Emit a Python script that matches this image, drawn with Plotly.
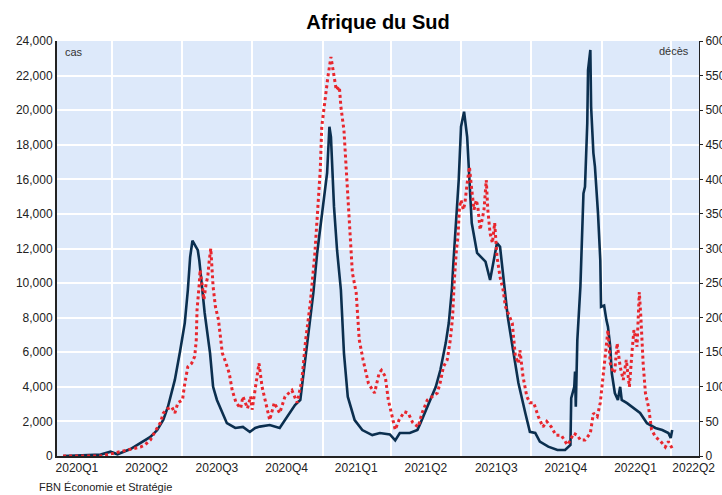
import plotly.graph_objects as go

# ---- data ----
cases_dates = [
    "2020-01-28", "2020-03-17", "2020-03-30", "2020-04-08", "2020-04-25", "2020-05-08",
    "2020-05-21", "2020-05-30", "2020-06-07", "2020-06-13", "2020-06-18", "2020-06-22",
    "2020-06-29", "2020-07-05", "2020-07-09", "2020-07-12", "2020-07-15", "2020-07-18",
    "2020-07-22", "2020-07-24", "2020-07-28", "2020-07-31", "2020-08-07", "2020-08-11",
    "2020-08-16", "2020-08-23", "2020-08-29", "2020-09-09", "2020-09-19", "2020-09-28",
    "2020-10-05", "2020-10-11", "2020-10-24", "2020-11-06", "2020-11-13", "2020-11-26",
    "2020-12-03", "2020-12-09", "2020-12-16", "2020-12-20", "2020-12-25", "2020-12-31",
    "2021-01-07", "2021-01-10", "2021-01-12", "2021-01-16", "2021-01-20", "2021-01-25",
    "2021-01-29", "2021-02-03", "2021-02-12", "2021-02-22", "2021-03-07", "2021-03-17",
    "2021-03-30", "2021-04-06", "2021-04-12", "2021-04-25", "2021-05-05", "2021-05-09",
    "2021-05-20", "2021-05-29", "2021-06-04", "2021-06-11", "2021-06-15", "2021-06-19",
    "2021-06-21", "2021-06-24", "2021-06-28", "2021-07-01", "2021-07-05", "2021-07-09",
    "2021-07-13", "2021-07-15", "2021-07-22", "2021-08-02", "2021-08-08", "2021-08-11",
    "2021-08-17", "2021-08-21", "2021-08-25", "2021-08-31", "2021-09-07", "2021-09-14",
    "2021-09-23", "2021-09-29", "2021-10-06", "2021-10-10", "2021-10-12", "2021-10-23",
    "2021-11-04", "2021-11-14", "2021-11-21", "2021-11-22", "2021-11-26", "2021-11-27",
    "2021-11-28", "2021-11-30", "2021-12-04", "2021-12-08", "2021-12-10", "2021-12-13",
    "2021-12-14", "2021-12-17", "2021-12-18", "2021-12-21", "2021-12-23", "2021-12-27",
    "2021-12-30", "2021-12-31", "2022-01-04", "2022-01-07", "2022-01-09", "2022-01-12",
    "2022-01-14", "2022-01-18", "2022-01-22", "2022-01-25", "2022-01-27", "2022-02-03",
    "2022-02-09", "2022-02-20", "2022-03-01", "2022-03-12", "2022-03-21", "2022-03-29",
    "2022-04-01", "2022-04-03",
]
cases_values = [
    0, 80, 250, 100, 400, 750,
    1100, 1500, 2100, 2850, 3800, 4400,
    6100, 7700, 9600, 11500, 12450, 12200,
    11900, 11300, 9600, 8270, 5950, 4000,
    3240, 2490, 1900, 1620, 1680, 1390,
    1620, 1700, 1790, 1620, 2080, 2950,
    3240, 5550, 8060, 9430, 11740, 14050,
    16370, 19040, 18460, 14420, 11900, 9600,
    5950, 3430, 2080, 1500, 1210, 1330,
    1250, 900, 1330, 1330, 1500, 1900,
    3060, 4000, 4970, 6530, 7690, 9600,
    11160, 13470, 15960, 19040, 19910, 18460,
    15570, 13470, 11740, 11240, 10180, 10950,
    12320, 12100, 10370, 8060, 6130, 4220,
    2490, 1400, 1330, 925, 830, 540,
    350, 350, 640, 3350, 4000, 4880,
    2850, 6700, 9790, 15190, 15570, 19260,
    22320, 23480, 20200, 17520, 16730, 14050,
    11330, 8630, 8700, 7860, 7480, 6320,
    4800, 3640, 3240, 4000, 3240, 3060,
    2850, 2490, 1900, 1620, 1500, 1330,
    1040, 1500,
]

deaths_dates = [
    "2020-01-28", "2020-03-17", "2020-03-30", "2020-04-11", "2020-04-25", "2020-05-08",
    "2020-05-14", "2020-05-21", "2020-05-27", "2020-06-03", "2020-06-07", "2020-06-12",
    "2020-06-18", "2020-06-22", "2020-06-26", "2020-07-02", "2020-07-05", "2020-07-09",
    "2020-07-14", "2020-07-18", "2020-07-20", "2020-07-21", "2020-07-24", "2020-07-25",
    "2020-07-28", "2020-07-30", "2020-08-02", "2020-08-04", "2020-08-06", "2020-08-08",
    "2020-08-11", "2020-08-14", "2020-08-18", "2020-08-23", "2020-08-28", "2020-09-01",
    "2020-09-05", "2020-09-10", "2020-09-16", "2020-09-19", "2020-09-25", "2020-09-29",
    "2020-10-01", "2020-10-05", "2020-10-10", "2020-10-14", "2020-10-19", "2020-10-24",
    "2020-10-30", "2020-11-06", "2020-11-13", "2020-11-22", "2020-11-29", "2020-12-05",
    "2020-12-10", "2020-12-16", "2020-12-22", "2020-12-26", "2020-12-29", "2020-12-31",
    "2021-01-04", "2021-01-08", "2021-01-12", "2021-01-16", "2021-01-19", "2021-01-23",
    "2021-01-25", "2021-01-29", "2021-02-02", "2021-02-06", "2021-02-09", "2021-02-14",
    "2021-02-18", "2021-02-23", "2021-03-02", "2021-03-10", "2021-03-16", "2021-03-19",
    "2021-03-24", "2021-03-28", "2021-04-02", "2021-04-06", "2021-04-11", "2021-04-18",
    "2021-04-23", "2021-04-29", "2021-05-06", "2021-05-11", "2021-05-18", "2021-05-24",
    "2021-05-31", "2021-06-04", "2021-06-08", "2021-06-13", "2021-06-17", "2021-06-20",
    "2021-06-22", "2021-06-25", "2021-06-27", "2021-06-29", "2021-07-01", "2021-07-04",
    "2021-07-06", "2021-07-09", "2021-07-12", "2021-07-15", "2021-07-18", "2021-07-21",
    "2021-07-23", "2021-07-26", "2021-07-29", "2021-07-31", "2021-08-03", "2021-08-05",
    "2021-08-08", "2021-08-11", "2021-08-14", "2021-08-17", "2021-08-21", "2021-08-25",
    "2021-08-28", "2021-09-02", "2021-09-06", "2021-09-10", "2021-09-14", "2021-09-16",
    "2021-09-20", "2021-09-25", "2021-09-29", "2021-10-04", "2021-10-10", "2021-10-16",
    "2021-10-21", "2021-10-27", "2021-11-02", "2021-11-09", "2021-11-13", "2021-11-17",
    "2021-11-21", "2021-11-25", "2021-11-30", "2021-12-04", "2021-12-10", "2021-12-17",
    "2021-12-21", "2021-12-26", "2021-12-30", "2022-01-03", "2022-01-07", "2022-01-09",
    "2022-01-12", "2022-01-16", "2022-01-18", "2022-01-21", "2022-01-25", "2022-01-29",
    "2022-02-02", "2022-02-06", "2022-02-10", "2022-02-12", "2022-02-16", "2022-02-19",
    "2022-02-21", "2022-02-24", "2022-02-27", "2022-03-03", "2022-03-07", "2022-03-12",
    "2022-03-19", "2022-03-25", "2022-03-29", "2022-04-03",
]
deaths_values = [
    0, 0, 3, 6, 9, 13,
    16, 23, 35, 48, 62, 68,
    71, 62, 77, 81, 105, 129,
    134, 144, 168, 211, 250, 269,
    245, 226, 250, 259, 283, 300,
    245, 216, 197, 149, 134, 120,
    95, 77, 69, 86, 69, 86,
    67, 95, 134, 100, 77, 52,
    77, 62, 86, 95, 77, 110,
    168, 221, 293, 360, 413, 476,
    515, 548, 577, 553, 529, 534,
    505, 471, 399, 332, 265, 236,
    168, 139, 105, 91, 120, 124,
    115, 81, 57, 38, 52, 64,
    62, 48, 42, 62, 81, 86,
    91, 107, 129, 139, 168, 201,
    250, 298, 317, 360, 370, 356,
    365, 394, 418, 385, 356, 370,
    360, 327, 346, 356, 399, 356,
    322, 308, 337, 288, 259, 240,
    216, 201, 192, 144, 134, 153,
    115, 86, 77, 77, 57, 42,
    50, 42, 30, 30, 23, 16,
    23, 33, 30, 23, 23, 33,
    62, 57, 77, 120, 168, 182,
    134, 120, 124, 163, 129, 110,
    139, 100, 158, 182, 158, 237,
    201, 134, 91, 71, 38, 28,
    21, 13, 21, 11,
]

tick_dates = ["2020-02-15", "2020-05-16", "2020-08-16", "2020-11-15", "2021-02-14",
              "2021-05-16", "2021-08-16", "2021-11-15", "2022-02-14", "2022-05-01"]
tick_labels = ["2020Q1", "2020Q2", "2020Q3", "2020Q4", "2021Q1",
               "2021Q2", "2021Q3", "2021Q4", "2022Q1", "2022Q2"]
quarter_starts = ["2020-04-01", "2020-07-01", "2020-10-01", "2021-01-01", "2021-04-01",
                  "2021-07-01", "2021-10-01", "2022-01-01", "2022-04-01"]

x_range = ["2020-01-20", "2022-05-08"]
cases_ticks = list(range(0, 24001, 2000))
deaths_ticks = list(range(0, 601, 50))

# ---- figure ----
BLUE = "#0b2f4f"
RED = "#e8262d"
FONT = "Liberation Sans, Arial, sans-serif"

fig = go.Figure()
fig.add_trace(go.Scatter(x=cases_dates, y=cases_values, mode="lines", name="cas",
                         line=dict(color=BLUE, width=2.6), yaxis="y"))
fig.add_trace(go.Scatter(x=deaths_dates, y=deaths_values, mode="lines", name="décès",
                         line=dict(color=RED, width=3, dash="dot"), yaxis="y2"))

fig.update_layout(
    width=722, height=495,
    margin=dict(l=57, r=23, t=41, b=39),
    paper_bgcolor="white",
    plot_bgcolor="#dde9fa",
    showlegend=False,
    font=dict(family=FONT, size=12, color="#222222"),
    title=dict(text="<b>Afrique du Sud</b>", x=0.5, xref="paper", xanchor="center",
               y=1 - 22 / 495, yref="container", yanchor="middle",
               font=dict(family=FONT, size=20, color="black")),
    xaxis=dict(
        type="date", range=x_range, automargin=False,
        tickmode="array", tickvals=tick_dates, ticktext=tick_labels,
        showgrid=False, ticks="", tickfont=dict(size=12),
        showline=True, linecolor="#222222", linewidth=2,
        minor=dict(tickmode="array", tickvals=quarter_starts, showgrid=True,
                   gridcolor="white", gridwidth=1.5, ticks=""),
        zeroline=False,
    ),
    yaxis=dict(
        range=[0, 24000], tickmode="array", tickvals=cases_ticks, tickformat=",",
        showgrid=True, gridcolor="white", gridwidth=1.5, automargin=False,
        showline=True, linecolor="#222222", linewidth=2, ticks="",
        zeroline=False, tickfont=dict(size=12),
    ),
    yaxis2=dict(
        range=[0, 600], tickmode="array", tickvals=deaths_ticks, automargin=False,
        overlaying="y", side="right", showgrid=False,
        showline=True, linecolor="#222222", linewidth=1,
        ticks="outside", ticklen=3, tickcolor="#222222",
        zeroline=False, tickfont=dict(size=12),
    ),
)

fig.add_annotation(text="cas", xref="paper", yref="paper", x=0.01, y=(456 - 52) / 415,
                   xanchor="left", yanchor="middle", showarrow=False,
                   font=dict(size=11, color="#333333"))
fig.add_annotation(text="décès", xref="paper", yref="paper", x=(691 - 57) / 642, y=(456 - 51) / 415,
                   xanchor="right", yanchor="middle", showarrow=False,
                   font=dict(size=11, color="#333333"))
fig.add_annotation(text="FBN Économie et Stratégie", xref="paper", yref="paper",
                   x=(37 - 57) / 642, y=(456 - 495) / 415, xanchor="left", yanchor="bottom",
                   showarrow=False, font=dict(size=11, color="#222222"))

fig.write_html("out.html", config={"displayModeBar": False},
               post_script="document.body.style.margin='0';document.body.style.padding='0';")
